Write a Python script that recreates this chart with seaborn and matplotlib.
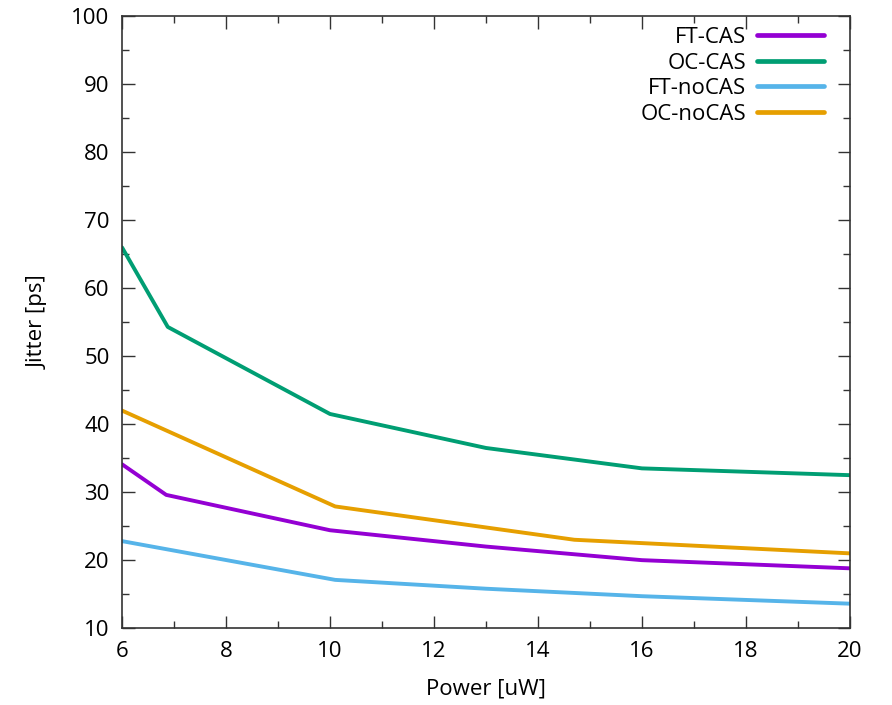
import pandas as pd
import matplotlib
matplotlib.use('Agg')
import matplotlib.pyplot as plt
import seaborn as sns
from matplotlib.ticker import MultipleLocator

# values
ft_cas_x = [6, 6.85, 10, 13, 16, 20]
ft_cas_y = [34.1, 29.6, 24.4, 22.0, 20.0, 18.8]

oc_cas_x = [6, 6.88, 10, 13, 16, 20]
oc_cas_y = [66.0, 54.3, 41.5, 36.5, 33.5, 32.5]

ft_nocas_x = [6, 10.1, 13, 16, 20]
ft_nocas_y = [22.8, 17.1, 15.8, 14.7, 13.6]

oc_nocas_x = [6, 10.1, 14.7, 20]
oc_nocas_y = [42.0, 27.9, 23.0, 21.0]

labels = ['FT-CAS', 'OC-CAS', 'FT-noCAS', 'OC-noCAS']
colors = ['#9400D3', '#009E73', '#56B4E9', '#E69F00']

sns.set_style('ticks')
plt.rcParams['font.family'] = ['Open Sans', 'DejaVu Sans']
plt.rcParams['text.color'] = 'black'
plt.rcParams['axes.labelcolor'] = 'black'
plt.rcParams['xtick.color'] = 'black'
plt.rcParams['ytick.color'] = 'black'

fig = plt.figure(figsize=(8.92, 7.05), dpi=100)
ax = fig.add_axes([0.1368, 0.109, 0.816, 0.868])

series = [(ft_cas_x, ft_cas_y), (oc_cas_x, oc_cas_y),
          (ft_nocas_x, ft_nocas_y), (oc_nocas_x, oc_nocas_y)]
for (xs, ys), lab, col in zip(series, labels, colors):
    df = pd.DataFrame({'Power': xs, 'Jitter': ys})
    sns.lineplot(data=df, x='Power', y='Jitter', ax=ax, color=col,
                 linewidth=2.8, label=lab, estimator=None, sort=False)

ax.set_xlim(6, 20)
ax.set_ylim(10, 100)
ax.xaxis.set_major_locator(MultipleLocator(2))
ax.xaxis.set_minor_locator(MultipleLocator(1))
ax.yaxis.set_major_locator(MultipleLocator(10))
ax.yaxis.set_minor_locator(MultipleLocator(5))
ax.tick_params(which='both', direction='in', top=True, right=True,
               labelsize=16, width=1, color='#333333', labelcolor='black')
ax.tick_params(which='major', length=9, pad=9)
ax.tick_params(which='minor', length=5)
for s in ax.spines.values():
    s.set_linewidth(1.2)
    s.set_color('#333333')

ax.set_xlabel('Power [uW]', fontsize=16, labelpad=12)
ax.set_ylabel('Jitter [ps]', fontsize=16, labelpad=16)

ax.legend(loc='upper right', bbox_to_anchor=(0.964, 0.982), frameon=False,
          markerfirst=False, fontsize=16, handlelength=3.0, handletextpad=0.5,
          borderpad=0, borderaxespad=0, labelspacing=0.2)
for line in ax.get_legend().get_lines():
    line.set_linewidth(3.4)

plt.savefig('out.png', dpi=100)
